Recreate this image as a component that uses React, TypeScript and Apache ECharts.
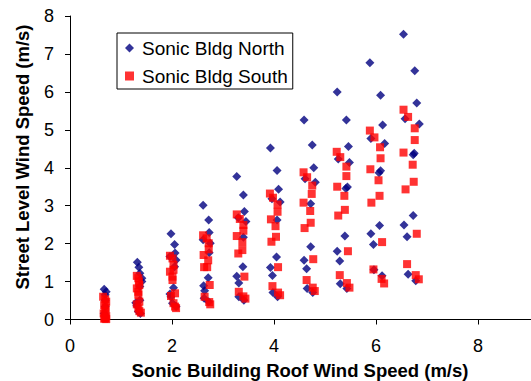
import React, { useEffect, useRef } from "react";
import * as echarts from "echarts";

const northSeriesName = "Sonic Bldg North";
const southSeriesName = "Sonic Bldg South";

const xTickLabels = ["0", "2", "4", "6", "8"];
const yTickLabels = ["0", "1", "2", "3", "4", "5", "6", "7", "8"];

const xAxisTitle = "Sonic Building Roof Wind Speed (m/s)";
const yAxisTitle = "Street Level Wind Speed (m/s)";

// [roof speed, street speed]
const northPoints: [number, number][] = [
  [0.67, 0.8], [0.71, 0.73], [0.69, 0.65], [0.69, 0.51], [0.69, 0.34], [0.67, 0.16],
  [1.32, 1.51], [1.35, 1.38], [1.37, 1.22], [1.41, 1.09], [1.41, 1.0], [1.37, 0.87],
  [1.37, 0.51], [1.29, 0.44], [1.31, 0.36], [1.34, 0.21], [1.38, 0.16],
  [1.98, 2.26], [2.05, 1.98], [2.06, 1.75], [1.96, 1.66], [2.08, 1.57], [2.05, 1.39],
  [2.03, 0.84], [1.96, 0.67], [1.98, 0.6], [2.01, 0.43], [2.08, 0.34],
  [2.61, 3.01], [2.72, 2.62], [2.73, 2.29], [2.61, 2.1], [2.75, 2.01], [2.73, 1.76],
  [2.71, 1.1], [2.62, 0.89], [2.64, 0.76], [2.63, 0.56], [2.72, 0.47],
  [3.27, 3.77], [3.4, 3.28], [3.42, 2.85], [3.3, 2.68], [3.45, 2.58], [3.4, 2.17],
  [3.39, 1.39], [3.27, 1.14], [3.31, 0.96], [3.31, 0.6], [3.41, 0.51],
  [3.93, 4.52], [4.06, 3.93], [4.09, 3.43], [3.96, 3.18], [4.12, 3.1], [4.06, 2.62],
  [4.05, 1.65], [3.93, 1.37], [3.97, 1.16], [3.98, 0.71], [4.07, 0.6],
  [4.59, 5.26], [4.75, 4.6], [4.78, 4.0], [4.61, 3.71], [4.81, 3.62], [4.72, 3.05],
  [4.72, 1.92], [4.59, 1.56], [4.64, 1.34], [4.65, 0.82], [4.76, 0.71],
  [5.24, 6.0], [5.42, 5.26], [5.46, 4.56], [5.26, 4.23], [5.48, 4.14], [5.41, 3.45],
  [5.44, 3.49], [5.39, 2.2], [5.24, 1.8], [5.29, 1.54], [5.3, 0.94], [5.43, 0.82],
  [5.88, 6.77], [6.09, 5.91], [6.13, 5.13], [5.9, 4.77], [6.17, 4.64], [6.06, 3.87],
  [6.09, 3.92], [6.07, 2.48], [5.9, 2.26], [5.95, 1.98], [5.96, 1.31], [6.12, 1.15],
  [6.54, 7.52], [6.76, 6.56], [6.8, 5.71], [6.57, 5.29], [6.85, 5.15], [6.73, 4.34],
  [6.75, 4.38], [6.73, 2.74], [6.55, 2.49], [6.61, 2.18], [6.63, 1.19], [6.78, 1.02],
];

const southPoints: [number, number][] = [
  [0.65, 0.6], [0.69, 0.53], [0.71, 0.47], [0.67, 0.38], [0.7, 0.3], [0.69, 0.24],
  [0.66, 0.16], [0.71, 0.09], [0.69, 0.04], [0.67, 0.02], [0.71, 0.01], [0.69, 0.03],
  [1.31, 1.15], [1.34, 1.09], [1.35, 1.0], [1.36, 0.91], [1.31, 0.82], [1.34, 0.73],
  [1.34, 0.65], [1.36, 0.47], [1.31, 0.4], [1.34, 0.29], [1.36, 0.22], [1.39, 0.18],
  [1.96, 1.68], [2.01, 1.61], [2.03, 1.44], [2.03, 1.31], [1.96, 1.26], [2.01, 1.13],
  [2.01, 1.04], [2.06, 0.69], [1.98, 0.62], [2.03, 0.43], [2.06, 0.34], [2.08, 0.3],
  [2.61, 2.22], [2.68, 2.14], [2.72, 2.01], [2.72, 1.85], [2.62, 1.7], [2.71, 1.56],
  [2.69, 1.38], [2.63, 1.38], [2.74, 0.91], [2.64, 0.6], [2.73, 0.46], [2.75, 0.4],
  [3.27, 2.77], [3.33, 2.65], [3.4, 2.49], [3.4, 2.34], [3.27, 2.2], [3.38, 2.04],
  [3.38, 1.83], [3.3, 1.74], [3.42, 1.13], [3.31, 0.73], [3.4, 0.61], [3.44, 0.55],
  [3.92, 3.32], [3.98, 3.21], [4.07, 3.03], [4.07, 2.84], [3.94, 2.64], [4.03, 2.46],
  [4.04, 2.18], [3.95, 2.05], [4.08, 1.38], [3.97, 0.88], [4.08, 0.71], [4.12, 0.64],
  [4.58, 3.88], [4.65, 3.75], [4.75, 3.53], [4.74, 3.31], [4.58, 3.08], [4.71, 2.86],
  [4.72, 2.55], [4.6, 2.41], [4.77, 1.59], [4.64, 1.04], [4.76, 0.84], [4.8, 0.75],
  [5.23, 4.42], [5.3, 4.28], [5.42, 4.03], [5.42, 3.78], [5.24, 3.5], [5.38, 3.26],
  [5.39, 2.89], [5.26, 2.74], [5.45, 1.8], [5.29, 1.17], [5.43, 0.96], [5.48, 0.84],
  [5.88, 4.98], [5.97, 4.8], [6.08, 4.54], [6.09, 4.25], [5.89, 3.96], [6.05, 3.67],
  [6.07, 3.26], [5.91, 3.08], [6.12, 2.04], [5.95, 1.32], [6.11, 1.07], [6.16, 0.95],
  [6.54, 5.53], [6.63, 5.34], [6.76, 5.04], [6.76, 4.73], [6.54, 4.4], [6.72, 4.08],
  [6.74, 3.63], [6.58, 3.43], [6.8, 2.26], [6.61, 1.46], [6.78, 1.17], [6.84, 1.06],
];

const X_MAX = 9.04;
const FONT = "'Liberation Sans', Arial, Helvetica, sans-serif";

export default function App() {
  const ref = useRef<HTMLDivElement>(null);

  useEffect(() => {
    if (!ref.current) return;
    const chart = echarts.init(ref.current, undefined, { renderer: "svg" });
    const xTickSet = new Set(xTickLabels);
    const yTickSet = new Set(yTickLabels);
    chart.setOption({
      animation: false,
      backgroundColor: "#ffffff",
      textStyle: { fontFamily: FONT },
      grid: { left: 70, top: 16, bottom: 61.5, right: 0, containLabel: false },
      xAxis: {
        type: "value",
        min: 0,
        max: X_MAX,
        interval: 2,
        splitLine: { show: false },
        axisLine: { show: true, onZero: false, lineStyle: { color: "#000", width: 1 } },
        axisTick: { show: true, inside: false, length: 5, lineStyle: { color: "#000" } },
        axisLabel: {
          margin: 17,
          color: "#000",
          fontSize: 18,
          fontFamily: FONT,
          showMaxLabel: false,
          formatter: (v: number) => (xTickSet.has(String(v)) ? String(v) : ""),
        },
      },
      yAxis: {
        type: "value",
        min: 0,
        max: 8,
        interval: 1,
        splitLine: { show: false },
        axisLine: { show: true, onZero: false, lineStyle: { color: "#000", width: 1 } },
        axisTick: { show: true, inside: false, length: 5, lineStyle: { color: "#000" } },
        axisLabel: {
          margin: 16,
          color: "#000",
          fontSize: 18,
          fontFamily: FONT,
          formatter: (v: number) => (yTickSet.has(String(v)) ? String(v) : ""),
        },
      },
      legend: {
        orient: "vertical",
        left: 117,
        top: 33,
        padding: [5, 5, 3, 8],
        itemGap: 8,
        itemWidth: 9,
        itemHeight: 9,
        borderColor: "#000",
        borderWidth: 1,
        backgroundColor: "#fff",
        textStyle: { fontSize: 19, color: "#000", fontFamily: FONT, lineHeight: 20, padding: [0, 0, 0, 3] },
        data: [
          { name: northSeriesName, icon: "diamond" },
          { name: southSeriesName, icon: "rect" },
        ],
      },
      graphic: [
        {
          type: "text",
          x: 300,
          y: 370,
          style: {
            text: xAxisTitle,
            fontSize: 18.5,
            fontWeight: "bold",
            fontFamily: FONT,
            fill: "#000",
            align: "center",
            verticalAlign: "middle",
          },
        },
        {
          type: "text",
          x: 22,
          y: 157,
          rotation: Math.PI / 2,
          style: {
            text: yAxisTitle,
            fontSize: 18.5,
            fontWeight: "bold",
            fontFamily: FONT,
            fill: "#000",
            align: "center",
            verticalAlign: "middle",
          },
        },
      ],
      series: [
        {
          name: northSeriesName,
          type: "scatter",
          symbol: "diamond",
          symbolSize: 9,
          itemStyle: { color: "#000080" },
          data: northPoints,
          z: 2,
        },
        {
          name: southSeriesName,
          type: "scatter",
          symbol: "rect",
          symbolSize: 8,
          itemStyle: { color: "#ff0000" },
          data: southPoints,
          z: 3,
        },
      ],
    });
    return () => chart.dispose();
  }, []);

  return (
    <div
      ref={ref}
      style={{ position: "fixed", left: 0, top: 0, width: 531, height: 381, background: "#fff" }}
    />
  );
}
